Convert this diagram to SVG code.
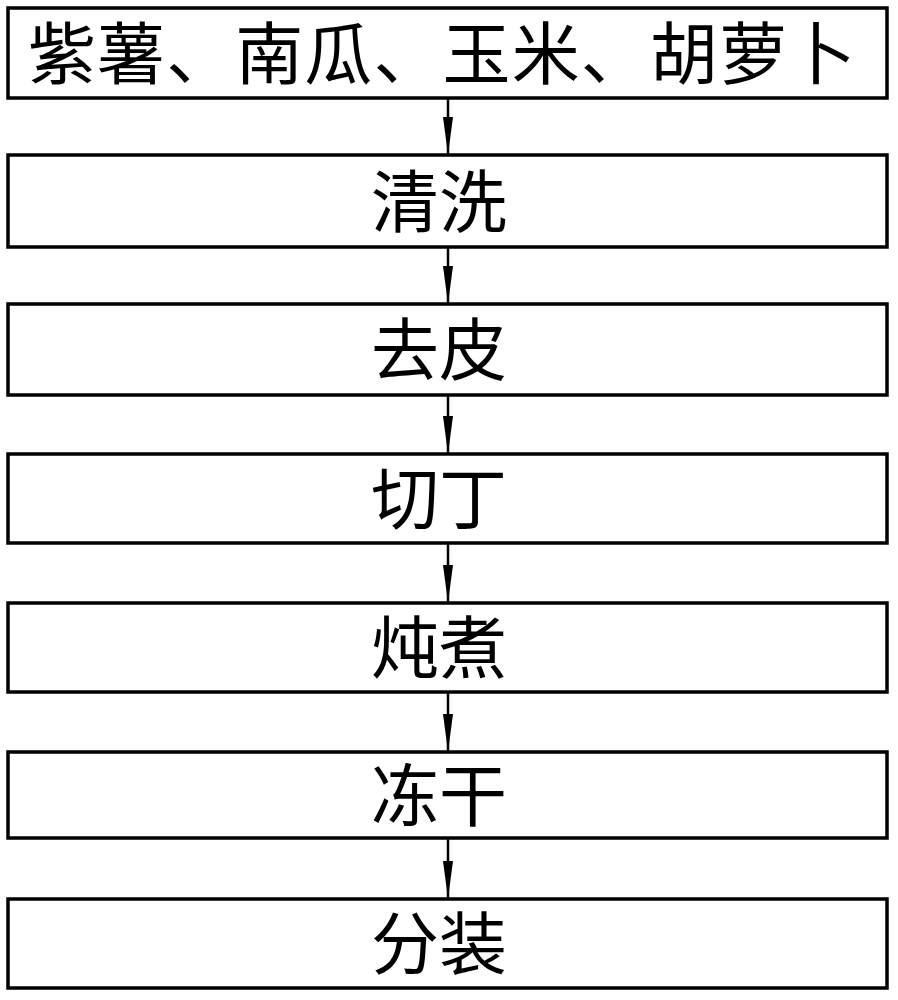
<svg xmlns="http://www.w3.org/2000/svg" width="898" height="1000" viewBox="0 0 898 1000">
<style>
.box{fill:#fff;stroke:#000;stroke-width:3.5}
.t{font-family:"Noto Sans CJK SC","Noto Sans CJK JP",sans-serif;font-size:68px;fill:#000;text-anchor:middle}
.c{stroke:#000;stroke-width:2.5;fill:none}
.h{fill:#000;stroke:none}
</style>
<defs>
<path id="head" d="M-5,0 L5,0 L0,38 Z"/>
</defs>
<rect width="898" height="1000" fill="#fff"/>
<g id="connectors">
<line class="c" x1="448" y1="98" x2="448" y2="155"/>
<use href="#head" class="h" x="448" y="117"/>
<line class="c" x1="448" y1="247" x2="448" y2="304"/>
<use href="#head" class="h" x="448" y="266"/>
<line class="c" x1="448" y1="395" x2="448" y2="454"/>
<use href="#head" class="h" x="448" y="416"/>
<line class="c" x1="448" y1="543" x2="448" y2="603"/>
<use href="#head" class="h" x="448" y="565"/>
<line class="c" x1="448" y1="692" x2="448" y2="752"/>
<use href="#head" class="h" x="448" y="714"/>
<line class="c" x1="448" y1="838" x2="448" y2="899"/>
<use href="#head" class="h" x="448" y="861"/>
</g>
<g id="n1">
<rect class="box" x="8" y="8" width="879" height="90"/>
<text class="t" x="442" y="79" textLength="828" lengthAdjust="spacing">紫薯、南瓜、玉米、胡萝卜</text>
</g>
<g id="n2">
<rect class="box" x="8" y="155" width="879" height="92"/>
<text class="t" x="439" y="227">清洗</text>
</g>
<g id="n3">
<rect class="box" x="8" y="304" width="879" height="91"/>
<text class="t" x="439" y="375">去皮</text>
</g>
<g id="n4">
<rect class="box" x="8" y="454" width="879" height="89"/>
<text class="t" x="439" y="524">切丁</text>
</g>
<g id="n5">
<rect class="box" x="8" y="603" width="879" height="89"/>
<text class="t" x="439" y="673">炖煮</text>
</g>
<g id="n6">
<rect class="box" x="8" y="752" width="879" height="86"/>
<text class="t" x="439" y="821">冻干</text>
</g>
<g id="n7">
<rect class="box" x="8" y="899" width="879" height="89"/>
<text class="t" x="439" y="969">分装</text>
</g>
</svg>
